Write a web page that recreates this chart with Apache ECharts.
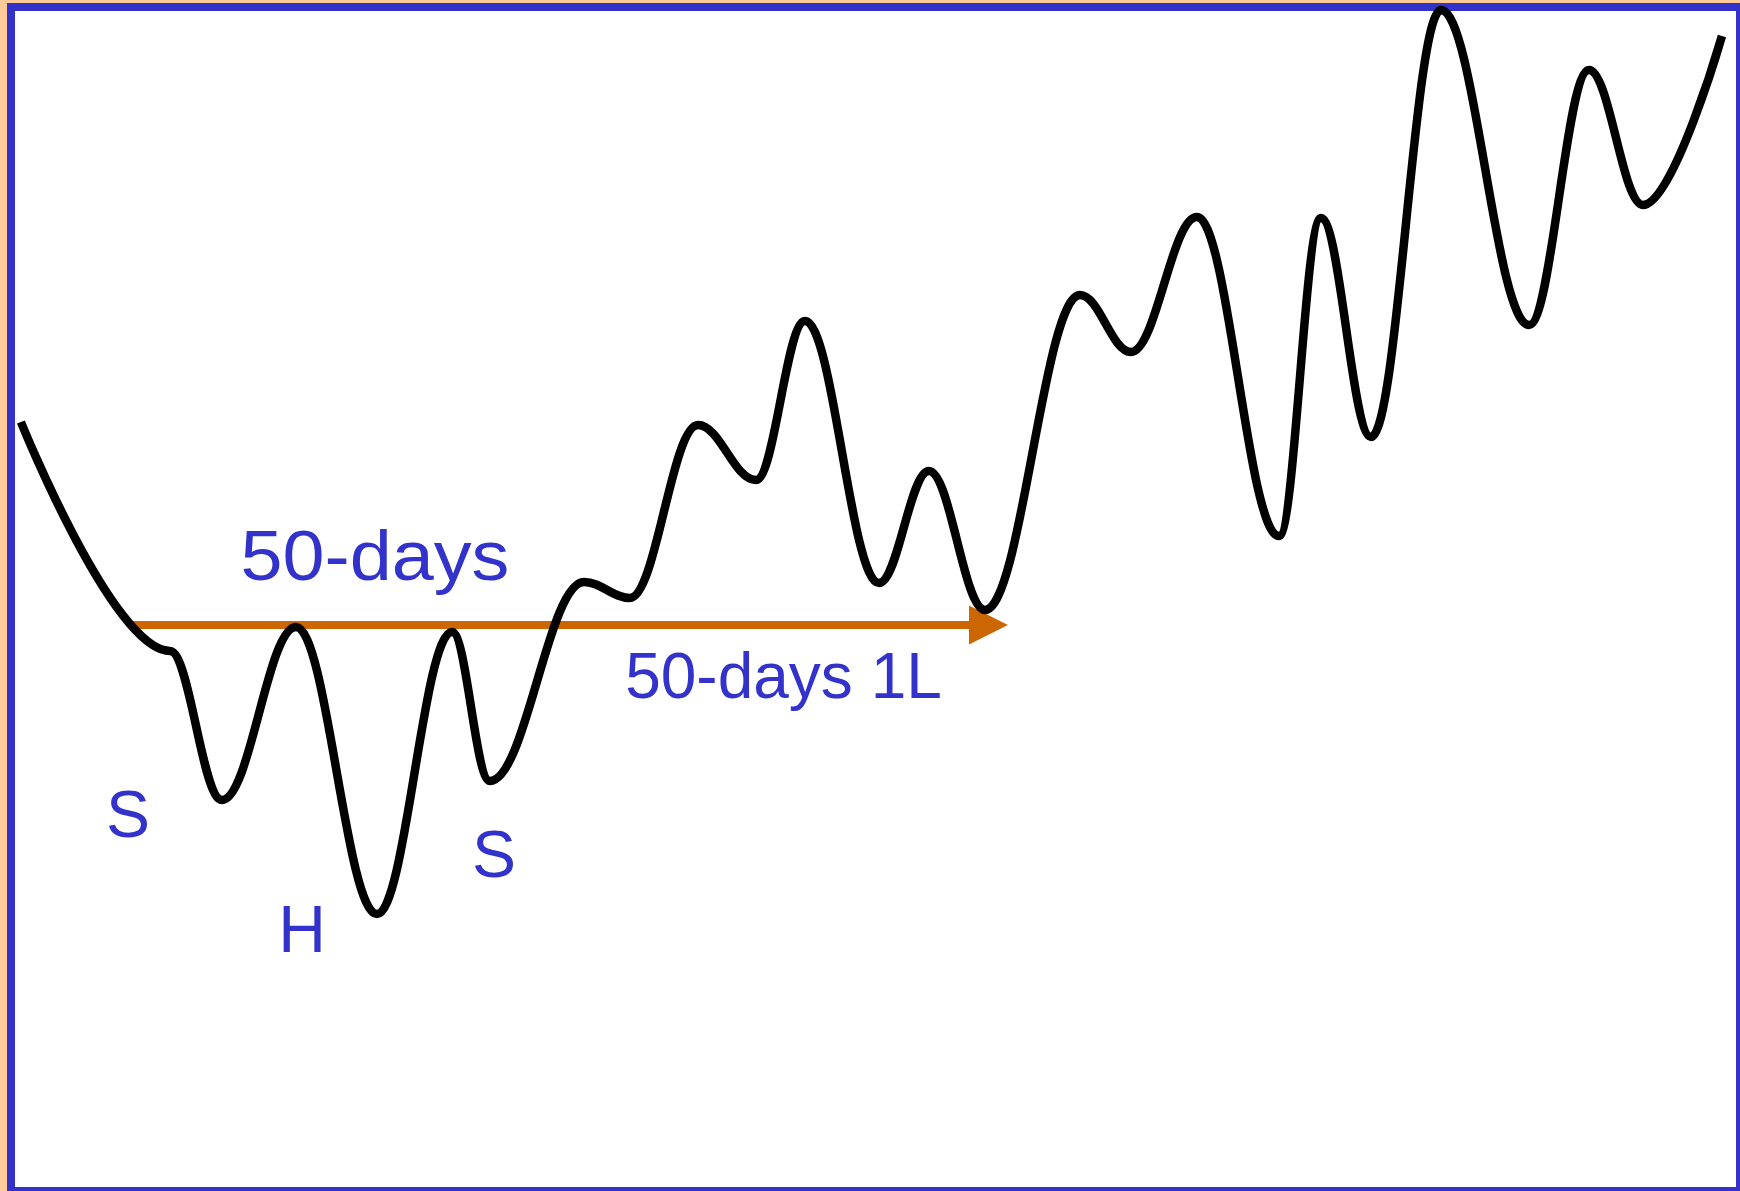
<!DOCTYPE html>
<html>
<head>
<meta charset="utf-8">
<script src="https://cdn.jsdelivr.net/npm/echarts@6/dist/echarts.min.js"></script>
<style>
html,body{margin:0;padding:0;background:#FFCC99;}
#chart{width:1740px;height:1191px;}
</style>
</head>
<body>
<div id="chart"></div>
<script>
// ---- data (x: trading days, y: price) ----
const days   = [-6.22, 2.44, 5.46, 9.76, 14.47, 18.83, 21.03, 26.50, 29.17, 33.12, 36.49, 39.34, 43.64, 46.54, 49.80, 55.32, 58.28, 62.11, 66.88, 69.32, 72.23, 76.29, 81.41, 84.89, 88.03, 92.62];
const prices = [76.9, 54.0, 39.1, 56.4, 27.7, 55.9, 41.0, 60.9, 59.3, 76.6, 71.1, 87.0, 60.8, 72.0, 58.1, 89.6, 83.9, 97.4, 65.5, 97.3, 75.4, 118.1, 86.6, 112.1, 98.6, 115.5];

const arrowDays  = [0, 50];
const arrowPrice = 56.6;

const labelTexts  = ['50-days', '50-days 1L', 'S', 'H', 'S'];
const labelDays   = [14.35, 38.09, 0.0, 10.11, 21.27];
const labelPrices = [63.0, 51.1, 37.2, 25.7, 33.2];

// ---- styles ----
const BLUE = '#3333CC';
const ORANGE = '#CC6600';
const FONT = '"Liberation Sans", Arial, Helvetica, sans-serif';
const labelStyles = [
  {size: 70, scaleX: 1.08},
  {size: 64, scaleX: 1},
  {size: 66, scaleX: 1},
  {size: 66, scaleX: 1},
  {size: 66, scaleX: 1}
];

const chart = echarts.init(document.getElementById('chart'), null, {renderer: 'canvas'});

const lineData = days.map((d, i) => [d, prices[i]]);

const frame = {
  type: 'rect',
  z: -10,
  silent: true,
  shape: {x: 11, y: 7, width: 1729, height: 1184},
  style: {fill: '#FFFFFF', stroke: BLUE, lineWidth: 8}
};

chart.setOption({
  animation: false,
  backgroundColor: '#FFCC99',
  grid: {left: 7.5, right: 11.5, top: 0, bottom: 0, containLabel: false},
  xAxis: {type: 'value', min: -7, max: 93, show: false},
  yAxis: {type: 'value', min: 0, max: 119.1, show: false},
  graphic: [frame],
  series: [{
    type: 'line',
    data: lineData,
    smooth: 0.38,
    smoothMonotone: 'x',
    showSymbol: false,
    symbol: 'none',
    clip: false,
    z: 5,
    lineStyle: {color: '#000000', width: 8.5},
    markLine: {
      silent: true,
      animation: false,
      z: 3,
      symbol: ['none', 'triangle'],
      symbolSize: 39,
      label: {show: false},
      lineStyle: {color: ORANGE, width: 8, type: 'solid'},
      emphasis: {disabled: true},
      data: [[
        {coord: [arrowDays[0], arrowPrice]},
        {coord: [arrowDays[1], arrowPrice]}
      ]]
    }
  }]
});

const textGraphics = labelTexts.map((t, i) => {
  const p = chart.convertToPixel({gridIndex: 0}, [labelDays[i], labelPrices[i]]);
  return {
    type: 'text',
    z: 100,
    silent: true,
    x: p[0],
    y: p[1],
    scaleX: labelStyles[i].scaleX,
    style: {
      text: t,
      fill: BLUE,
      font: labelStyles[i].size + 'px ' + FONT,
      align: 'center',
      verticalAlign: 'middle'
    }
  };
});

chart.setOption({graphic: [frame].concat(textGraphics)});
</script>
</body>
</html>
